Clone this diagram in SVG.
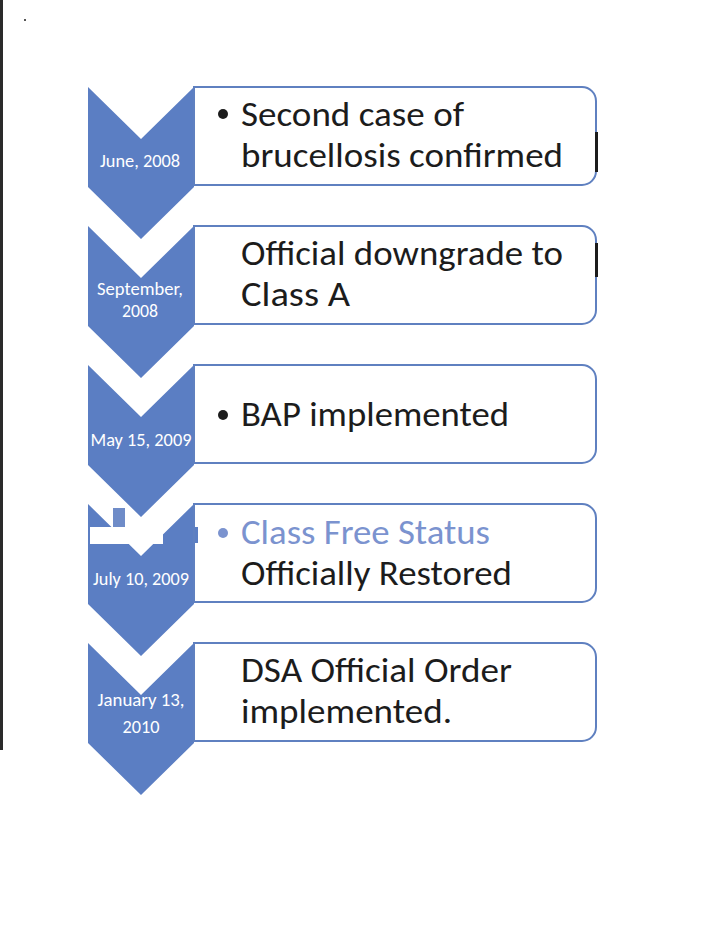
<svg xmlns="http://www.w3.org/2000/svg" width="720" height="934" viewBox="0 0 720 934">
<style>
.chev{fill:#5b7ec3}
.box{fill:#ffffff;stroke:#5f80c0;stroke-width:2}
.date{font-family:Carlito,Lato,"Liberation Sans",sans-serif;font-size:19px;fill:#ffffff;text-anchor:middle}
.main{font-family:Carlito,Lato,"Liberation Sans",sans-serif;font-size:34px;fill:#1c1c1c}
.lb{fill:#7b93cf}
</style>
<rect x="0" y="0" width="720" height="934" fill="#ffffff"/>
<rect x="0" y="0" width="3" height="750" fill="#2a2a2a"/>
<rect x="24" y="19" width="2" height="2" fill="#555"/>
<defs>
<path id="chevShape" d="M88 0 L141 52 L194 0 L194 100 L141 152 L88 100 Z"/>
<path id="boxShape" d="M194 0 H582 A14 14 0 0 1 596 14 V84 A14 14 0 0 1 582 98 H194 Z"/>
</defs>
<g id="connectors"></g>
<g id="step1" transform="translate(0,87)">
<use href="#chevShape" class="chev"/>
<use href="#boxShape" class="box"/>
<text class="date" x="140" y="80" textLength="80" lengthAdjust="spacingAndGlyphs">June, 2008</text>
<circle cx="223" cy="27" r="5" fill="#1c1c1c"/>
<text class="main" x="241" y="39" textLength="223" lengthAdjust="spacingAndGlyphs">Second case of</text>
<text class="main" x="241" y="80" textLength="322" lengthAdjust="spacingAndGlyphs">brucellosis confirmed</text>
<rect x="595" y="45" width="3" height="40" fill="#1c1c1c"/>
</g>
<g id="step2" transform="translate(0,226)">
<use href="#chevShape" class="chev"/>
<use href="#boxShape" class="box"/>
<text class="date" x="140" y="69" textLength="86" lengthAdjust="spacingAndGlyphs">September,</text>
<text class="date" x="140" y="91" textLength="36" lengthAdjust="spacingAndGlyphs">2008</text>
<text class="main" x="241" y="39" textLength="322" lengthAdjust="spacingAndGlyphs">Official downgrade to</text>
<text class="main" x="241" y="80" textLength="109" lengthAdjust="spacingAndGlyphs">Class A</text>
<rect x="595" y="17" width="3" height="34" fill="#1c1c1c"/>
</g>
<g id="step3" transform="translate(0,365)">
<use href="#chevShape" class="chev"/>
<use href="#boxShape" class="box"/>
<text class="date" x="141" y="81" textLength="101" lengthAdjust="spacingAndGlyphs">May 15, 2009</text>
<circle cx="223" cy="50" r="5" fill="#1c1c1c"/>
<text class="main" x="241" y="61" textLength="268" lengthAdjust="spacingAndGlyphs">BAP implemented</text>
</g>
<g id="step4" transform="translate(0,504)">
<use href="#chevShape" class="chev"/>
<use href="#boxShape" class="box"/>
<rect x="90" y="23" width="73" height="17" fill="#ffffff"/>
<rect x="113" y="4" width="12" height="19" fill="#6f8cc8"/>
<rect x="195" y="23" width="3" height="16" fill="#5b7ec3"/>
<text class="date" x="141" y="81" textLength="96" lengthAdjust="spacingAndGlyphs">July 10, 2009</text>
<circle cx="223" cy="29" r="5" fill="#7b93cf"/>
<text class="main lb" x="241" y="40" textLength="249" lengthAdjust="spacingAndGlyphs">Class Free Status</text>
<text class="main" x="241" y="81" textLength="271" lengthAdjust="spacingAndGlyphs">Officially Restored</text>
</g>
<g id="step5" transform="translate(0,643)">
<use href="#chevShape" class="chev"/>
<use href="#boxShape" class="box"/>
<text class="date" x="141" y="63" textLength="87" lengthAdjust="spacingAndGlyphs">January 13,</text>
<text class="date" x="141" y="90" textLength="37" lengthAdjust="spacingAndGlyphs">2010</text>
<text class="main" x="241" y="39" textLength="271" lengthAdjust="spacingAndGlyphs">DSA Official Order</text>
<text class="main" x="241" y="80" textLength="211" lengthAdjust="spacingAndGlyphs">implemented.</text>
</g>
</svg>
